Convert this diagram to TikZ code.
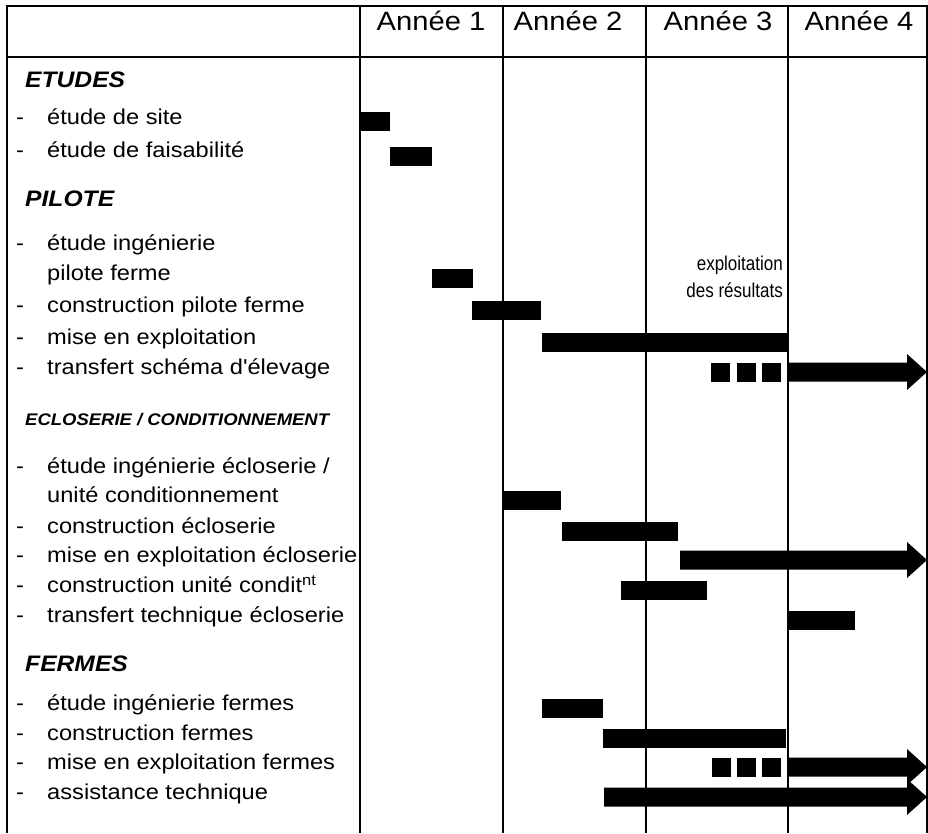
\documentclass[tikz,border=0pt]{standalone}
\usepackage{fontspec}
\setmainfont{Liberation Sans}[FakeStretch=1.1,Ligatures=TeXOff]
\newfontfamily\condfont{Liberation Sans}[FakeStretch=0.85,Ligatures=TeXOff]
\newcommand\rowlabel[3]{%
  \node[dashtxt] (d#1) at (20,#2) {-};
  \node[itemtxt] (t#1) at (47,#2) {#3};}
\newcommand\gbar[4]{\fill[barfill] (#2,#4-9.5) rectangle (#3,#4+9.5) coordinate (b#1);}
\newcommand\garrow[3]{\fill[barfill] (#2,#3-9.5) -- (907,#3-9.5) -- (907,#3-18) -- (927,#3)
  -- (907,#3+18) -- (907,#3+9.5) -- (#2,#3+9.5) -- cycle;
  \coordinate (a#1) at (927,#3);}
\newcommand\gsquares[4]{%
  \foreach \sx in {#2,#3,#4} {\fill[barfill] (\sx,#1-9.5) rectangle (\sx+19,#1+9.5);}}
\begin{document}
\begin{tikzpicture}[x=1pt,y=-1pt,
  gridline/.style={line width=1.1pt,black},
  barfill/.style={black},
  yeartxt/.style={anchor=mid,inner sep=0pt,font=\fontsize{26.5}{30}\selectfont},
  headtxt/.style={anchor=mid west,inner sep=0pt,yshift=-1pt,font=\fontsize{22.4}{26}\selectfont\bfseries\itshape},
  smallhead/.style={anchor=mid west,inner sep=0pt,yshift=-1pt,font=\fontsize{16.8}{20}\selectfont\bfseries\itshape},
  itemtxt/.style={anchor=mid west,inner sep=0pt,font=\fontsize{21.5}{26}\selectfont},
  dashtxt/.style={anchor=mid,inner sep=0pt,font=\fontsize{21.5}{26}\selectfont},
  notetxt/.style={anchor=mid east,inner sep=0pt,font=\condfont\fontsize{20}{24}\selectfont}]
\useasboundingbox (0,0) rectangle (928,833);
% grid
\draw[gridline] (7,833) -- (7,6) -- (927,6) -- (927,833);
\draw[gridline] (7,57) -- (927,57);
\foreach \x in {360,503,646,788} {\draw[gridline] (\x,6) -- (\x,833);}
% header
\node[yeartxt] (y1) at (431,28) {Année 1};
\node[yeartxt] (y2) at (568,28) {Année 2};
\node[yeartxt] (y3) at (718,28) {Année 3};
\node[yeartxt] (y4) at (859,28) {Année 4};
% ETUDES
\node[headtxt] (hEtudes) at (25,84) {ETUDES};
\rowlabel{site}{122}{étude de site}
\rowlabel{fais}{155}{étude de faisabilité}
\gbar{site}{361}{390}{121}
\gbar{fais}{390}{432}{156}
% PILOTE
\node[headtxt] (hPilote) at (25,203) {PILOTE};
\rowlabel{ingp}{248}{étude ingénierie}
\node[itemtxt] (tingp2) at (47,278) {pilote ferme};
\rowlabel{consp}{310}{construction pilote ferme}
\rowlabel{misep}{342}{mise en exploitation}
\rowlabel{transp}{372}{transfert schéma d'élevage}
\gbar{ingp}{432}{473}{278}
\gbar{consp}{472}{541}{310}
\gbar{misep}{542}{787}{342}
\gsquares{372}{711}{737}{762}
\garrow{transp}{787}{372}
\node[notetxt] (n1) at (783,268) {exploitation};
\node[notetxt] (n2) at (783,295) {des résultats};
% ECLOSERIE
\node[smallhead] (hEclo) at (25,422) {ECLOSERIE / CONDITIONNEMENT};
\rowlabel{inge}{471}{étude ingénierie écloserie /}
\node[itemtxt] (tinge2) at (47,500) {unité conditionnement};
\rowlabel{conse}{531}{construction écloserie}
\rowlabel{misee}{560}{mise en exploitation écloserie}
\rowlabel{consu}{590}{construction unité condit\textsuperscript{nt}}
\rowlabel{trane}{620}{transfert technique écloserie}
\gbar{inge}{503}{561}{500}
\gbar{conse}{562}{678}{531}
\garrow{misee}{680}{560}
\gbar{consu}{621}{707}{590}
\gbar{trane}{787}{855}{620}
% FERMES
\node[headtxt] (hFermes) at (25,668) {FERMES};
\rowlabel{ingf}{708}{étude ingénierie fermes}
\rowlabel{consf}{738}{construction fermes}
\rowlabel{misef}{767}{mise en exploitation fermes}
\rowlabel{assf}{797}{assistance technique}
\gbar{ingf}{542}{603}{708}
\gbar{consf}{603}{786}{738}
\gsquares{767}{712}{737}{762}
\garrow{misef}{787}{767}
\garrow{assf}{604}{797}
\end{tikzpicture}
\end{document}
